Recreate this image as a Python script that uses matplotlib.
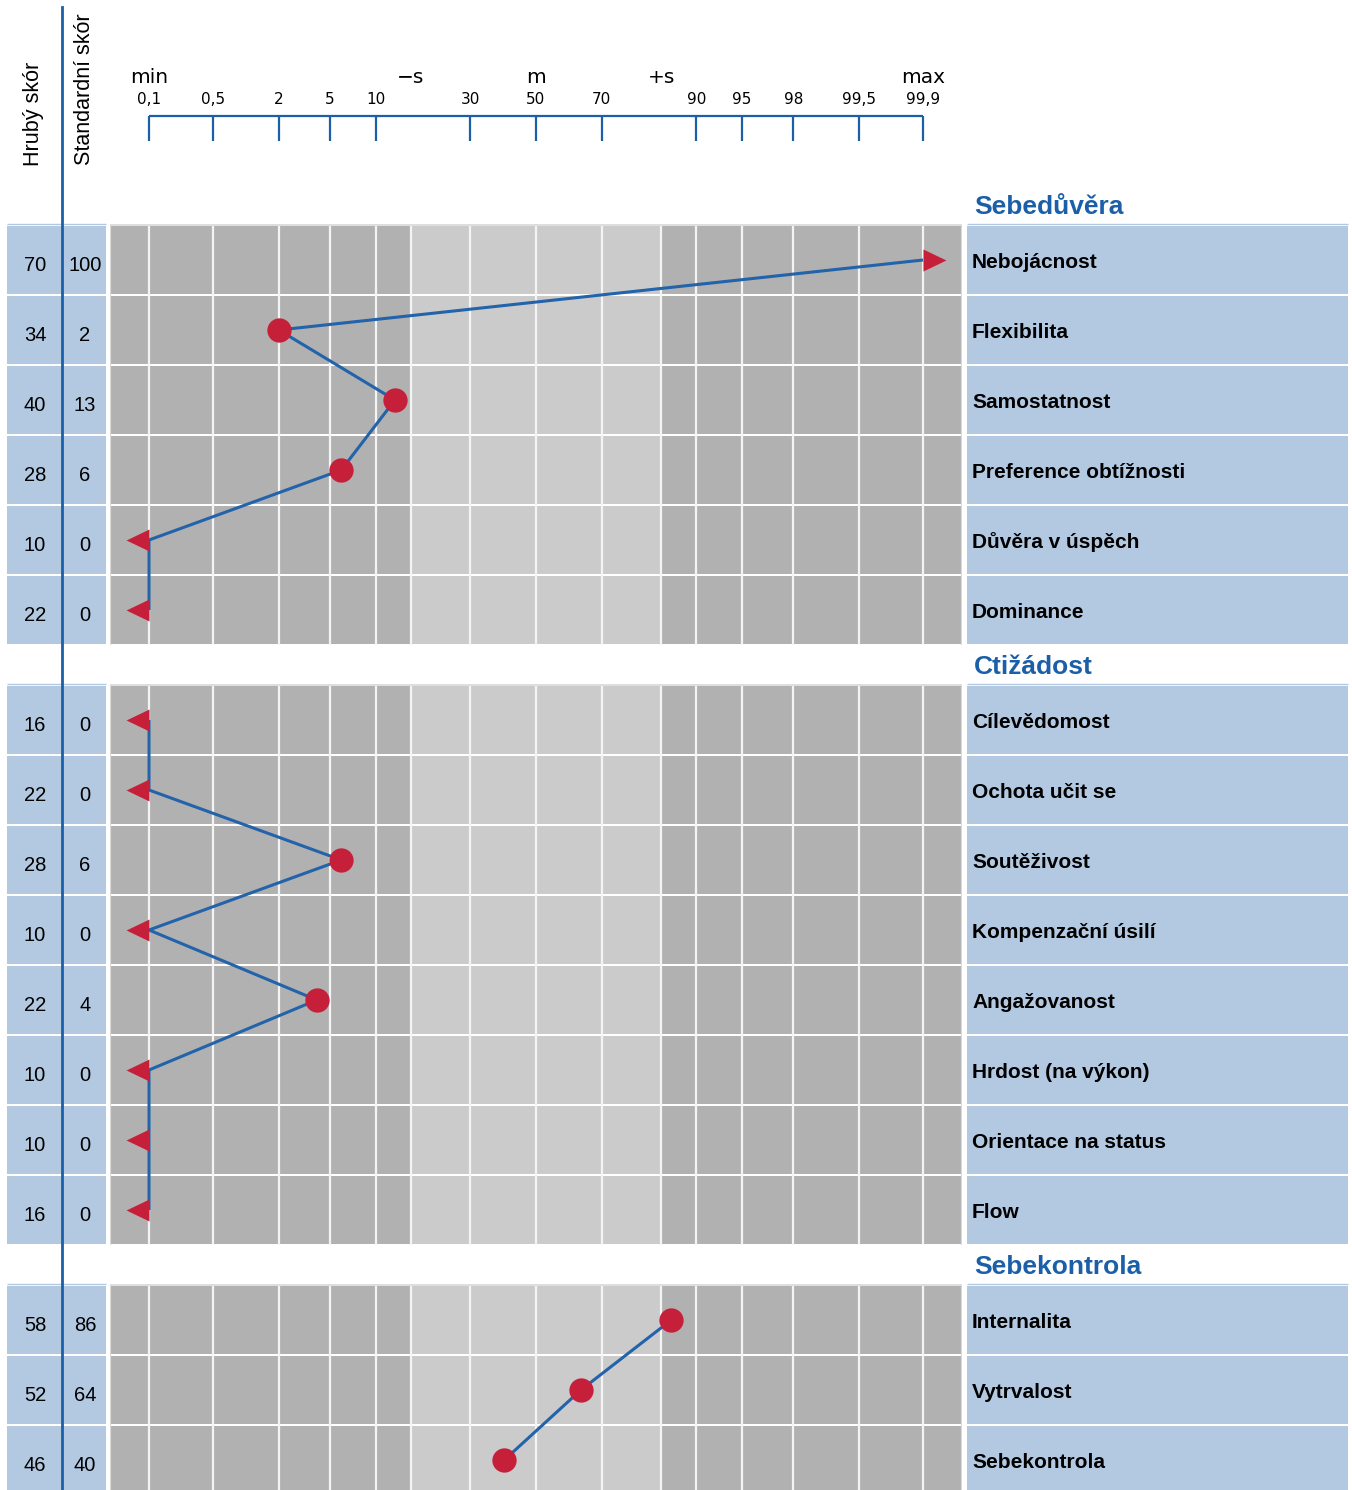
import numpy as np
import matplotlib.pyplot as plt
from matplotlib.patches import Rectangle
from statistics import NormalDist

# --- data ---
sekce = ["Sebedůvěra", "Ctižádost", "Sebekontrola"]

skaly_1 = ["Nebojácnost", "Flexibilita", "Samostatnost",
           "Preference obtížnosti", "Důvěra v úspěch", "Dominance"]
hruby_1 = [70, 34, 40, 28, 10, 22]
std_1 = [100, 2, 13, 6, 0, 0]

skaly_2 = ["Cílevědomost", "Ochota učit se", "Soutěživost", "Kompenzační úsilí",
           "Angažovanost", "Hrdost (na výkon)", "Orientace na status", "Flow"]
hruby_2 = [16, 22, 28, 10, 22, 10, 10, 16]
std_2 = [0, 0, 6, 0, 4, 0, 0, 0]

skaly_3 = ["Internalita", "Vytrvalost", "Sebekontrola"]
hruby_3 = [58, 52, 46]
std_3 = [86, 64, 40]

tick_pct = [0.1, 0.5, 2, 5, 10, 30, 50, 70, 90, 95, 98, 99.5, 99.9]
tick_txt = ["0,1", "0,5", "2", "5", "10", "30", "50", "70", "90", "95", "98", "99,5", "99,9"]
znacky_txt = ["min", "−s", "m", "+s", "max"]
znacky_pct = [0.1, 15.87, 50, 84.13, 99.9]

# --- barvy ---
MODRA = "#1b5fa8"
CARA = "#2263aa"
CERVENA = "#c61f3a"
BUNKA = "#b3c9e1"
TMAVA = "#b1b1b1"
SVETLA = "#cbcbcb"
BILA = "#f4f4f4"

# --- rozvrzeni v pixelech ---
W, H = 1352, 1490
TOP = 185
HEAD_H = 40
ROW_H = 70
STRED = 536        # poloha 50 %
PX_Z = 125.23      # pixelu na jednu smerodatnou odchylku
Z_LIM = 3.405

nd = NormalDist()


def fwd(p):
    p = np.clip(np.asarray(p, dtype=float) / 100.0, 1e-12, 1 - 1e-12)
    return np.vectorize(lambda v: nd.inv_cdf(v) if np.isfinite(v) else np.nan,
                        otypes=[float])(p)


def inv(z):
    return np.vectorize(nd.cdf, otypes=[float])(np.asarray(z, dtype=float)) * 100.0


fig = plt.figure(figsize=(W / 100, H / 100), dpi=100)

# pozadi s tabulkou (souradnice v pixelech)
bg = fig.add_axes([0, 0, 1, 1])
bg.set_xlim(0, W)
bg.set_ylim(H, 0)
bg.axis("off")

# mrizka s pravdepodobnostni osou
gl = STRED - Z_LIM * PX_Z
ax = fig.add_axes([gl / W, 0, 2 * Z_LIM * PX_Z / W, 1])
ax.set_xscale("function", functions=(fwd, inv))
x_lo, x_hi = nd.cdf(-Z_LIM) * 100, nd.cdf(Z_LIM) * 100
ax.set_xlim(x_lo, x_hi)
ax.set_ylim(H, 0)
ax.axis("off")
ax.patch.set_alpha(0)

s_lo, s_hi = nd.cdf(-1) * 100, nd.cdf(1) * 100

# hlavicka
bg.plot([62, 62], [7, H], color=MODRA, lw=2.0, zorder=6)
bg.text(33, 166, "Hrubý skór", rotation=90, ha="center", va="bottom",
        fontsize=15.5, family="Liberation Sans")
bg.text(85, 165, "Standardní skór", rotation=90, ha="center", va="bottom",
        fontsize=15.5, family="Liberation Sans")

ax.hlines(116, tick_pct[0], tick_pct[-1], color=MODRA, lw=1.6)
ax.vlines(tick_pct, 116, 141, color=MODRA, lw=1.6)
for p, t in zip(tick_pct, tick_txt):
    ax.text(p, 104, t, ha="center", va="baseline", fontsize=11, family="DejaVu Sans")
for p, t in zip(znacky_pct, znacky_txt):
    ax.text(p, 83, t, ha="center", va="baseline", fontsize=14.5, family="DejaVu Sans")

# markery: trojuhelnik se zakladnou v bode
tri_l = [(0, -0.48), (0, 0.48), (-1, 0), (0, -0.48)]
tri_r = [(0, -0.48), (0, 0.48), (1, 0), (0, -0.48)]

data = [(skaly_1, hruby_1, std_1), (skaly_2, hruby_2, std_2), (skaly_3, hruby_3, std_3)]

y = TOP
for nazev, (skaly, hruby, std) in zip(sekce, data):
    head_top = y
    y0 = y + HEAD_H
    n = len(skaly)
    y1 = y0 + n * ROW_H

    bg.text(974, head_top + 29, nazev, ha="left", va="baseline", fontsize=19,
            fontweight="bold", color=MODRA, family="Liberation Sans")
    bg.hlines(y0 - 1, 967, 1348, color=BUNKA, lw=1)
    bg.hlines(y0 - 1, 7, 106, color=BUNKA, lw=1)

    # bunky a mrizka
    for i in range(n):
        rt = y0 + i * ROW_H
        for x0, x1 in [(7, 106), (967, 1348)]:
            bg.add_patch(Rectangle((x0, rt + 1), x1 - x0, ROW_H - 2, color=BUNKA, lw=0))
        ax.add_patch(Rectangle((x_lo, rt + 1), x_hi - x_lo, ROW_H - 2, color=TMAVA, lw=0))
        ax.add_patch(Rectangle((s_lo, rt + 1), s_hi - s_lo, ROW_H - 2, color=SVETLA, lw=0))
        c = rt + ROW_H / 2
        bg.text(35, c + 11, str(hruby[i]), ha="center", va="baseline",
                fontsize=14.5, family="Liberation Sans")
        bg.text(85, c + 11, str(std[i]), ha="center", va="baseline",
                fontsize=14.5, family="Liberation Sans")
        bg.text(972, c + 7.5, skaly[i], ha="left", va="baseline", fontsize=15,
                fontweight="bold", family="Liberation Sans")
    ax.vlines(tick_pct + [s_lo, s_hi], y0, y1, color=BILA, lw=1.6, zorder=2)
    ax.vlines([x_lo, x_hi], y0, y1, color="#d8d8d8", lw=1.6, zorder=2)
    ax.hlines(y0, x_lo, x_hi, color="#d8d8d8", lw=1.2, zorder=2)

    # profil
    xs = np.clip(std, tick_pct[0], tick_pct[-1])
    ys = y0 + ROW_H / 2 + ROW_H * np.arange(n)
    ax.plot(xs, ys, color=CARA, lw=2.2, zorder=5, solid_capstyle="butt")
    for xv, yv, v in zip(xs, ys, std):
        if v <= 0:
            ax.plot(xv, yv, marker=tri_l, ms=33, color=CERVENA, mew=0, zorder=6)
        elif v >= 100:
            ax.plot(xv, yv, marker=tri_r, ms=33, color=CERVENA, mew=0, zorder=6)
        else:
            ax.plot(xv, yv, marker="o", ms=17.5, color=CERVENA, mew=0, zorder=6)

    y = y1

fig.savefig("out.png", dpi=100)
